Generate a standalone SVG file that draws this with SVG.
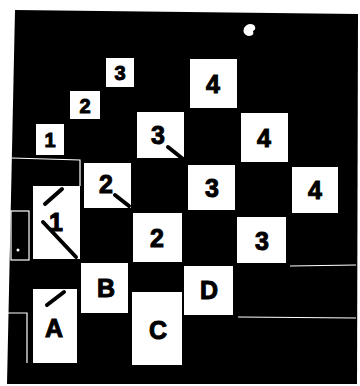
<svg xmlns="http://www.w3.org/2000/svg" width="360" height="386" viewBox="0 0 360 386">
<style>
.box{fill:#fff}
.lb{font-family:"Liberation Sans",Arial,sans-serif;font-weight:bold;fill:#000;stroke:#000;stroke-width:1;text-anchor:middle;dominant-baseline:central}
.big{font-size:25px}
.sm{font-size:20px}
.slash{stroke:#000;stroke-width:4;stroke-linecap:round;fill:none}
.edge{stroke:#fff;stroke-width:1.2;fill:none}
</style>
<rect width="360" height="386" fill="#fff"/>
<polygon points="15,10 358,14 357,384 7,384" fill="#000"/>
<path d="M244,28 Q248,22 254,25 Q257,29 253,31 Q255,36 248,36 Q242,34 244,28 Z" fill="#fff"/>
<g id="noise">
<path class="edge" d="M12,158 L80,160 L80,186"/>
<rect class="edge" x="11" y="211" width="18" height="49"/>
<circle cx="18" cy="250" r="1.5" fill="#fff"/>
<path class="edge" d="M8,313 L27,313 L27,363"/>
<path class="edge" d="M290,266 L356,265"/>
<path class="edge" d="M238,317 L356,318"/>
</g>
<g id="n-s3"><rect class="box" x="106" y="58" width="28" height="29"/><text class="lb sm" x="120" y="73">3</text></g>
<g id="n-s2"><rect class="box" x="70" y="91" width="30" height="28"/><text class="lb sm" x="85" y="106">2</text></g>
<g id="n-s1"><rect class="box" x="36" y="124" width="28" height="31"/><text class="lb sm" x="50" y="140">1</text></g>
<g id="n-4a"><rect class="box" x="190" y="59" width="47" height="49"/><text class="lb big" x="213" y="84">4</text></g>
<g id="n-3a"><rect class="box" x="137" y="112" width="47" height="46"/><text class="lb big" x="158" y="135">3</text></g>
<g id="n-4b"><rect class="box" x="241" y="113" width="47" height="49"/><text class="lb big" x="264" y="138">4</text></g>
<g id="n-2a"><rect class="box" x="84" y="163" width="47" height="45"/><text class="lb big" x="106" y="184">2</text></g>
<g id="n-3b"><rect class="box" x="188" y="165" width="47" height="45"/><text class="lb big" x="212" y="188">3</text></g>
<g id="n-4c"><rect class="box" x="292" y="167" width="46" height="46"/><text class="lb big" x="315" y="190">4</text></g>
<g id="n-1"><rect class="box" x="33" y="186" width="47" height="73"/><text class="lb big" x="56" y="222">1</text></g>
<g id="n-2b"><rect class="box" x="133" y="213" width="49" height="49"/><text class="lb big" x="157" y="238">2</text></g>
<g id="n-3c"><rect class="box" x="237" y="217" width="49" height="46"/><text class="lb big" x="262" y="241">3</text></g>
<g id="n-B"><rect class="box" x="81" y="263" width="47" height="50"/><text class="lb big" x="106" y="288">B</text></g>
<g id="n-D"><rect class="box" x="184" y="266" width="49" height="49"/><text class="lb big" x="209" y="290">D</text></g>
<g id="n-A"><rect class="box" x="33" y="289" width="44" height="74"/><text class="lb big" x="54" y="328">A</text></g>
<g id="n-C"><rect class="box" x="132" y="292" width="50" height="73"/><text class="lb big" x="158" y="330">C</text></g>
<g id="connectors">
<line class="slash" x1="45" y1="204" x2="62" y2="189"/>
<line class="slash" x1="43" y1="222" x2="76" y2="257"/>
<line class="slash" x1="47" y1="305" x2="64" y2="292"/>
<line class="slash" x1="115" y1="195" x2="129" y2="206"/>
<line class="slash" x1="168" y1="147" x2="183" y2="159"/>
</g>
</svg>
